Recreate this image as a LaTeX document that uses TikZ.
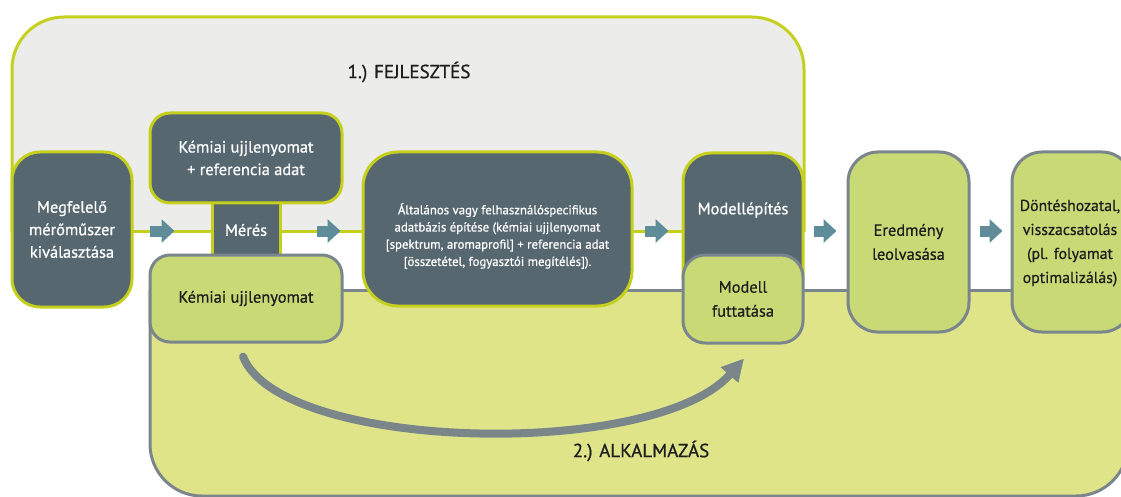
\documentclass[tikz,border=0pt]{standalone}
\usepackage{fontspec}
\setmainfont{PT Sans}[RawFeature={embolden=0.7}]
\usetikzlibrary{arrows.meta,calc}

\definecolor{slate}{RGB}{86,103,112}
\definecolor{limeline}{RGB}{197,208,30}
\definecolor{devgray}{RGB}{236,236,234}
\definecolor{leaf}{RGB}{201,217,118}
\definecolor{appfill}{RGB}{223,228,137}
\definecolor{boxgray}{RGB}{122,133,140}
\definecolor{flowteal}{RGB}{94,141,153}
\definecolor{loopgray}{RGB}{123,134,139}
\definecolor{ink}{RGB}{30,30,30}

\tikzset{
  darkbox/.style={draw=limeline, fill=slate, line width=3pt, text=white,
    rounded corners=#1, align=center, inner sep=0pt,
    font=\fontsize{16.4}{22.5}\selectfont},
  greenbox/.style={draw=boxgray, fill=leaf, line width=3pt, text=ink,
    rounded corners=#1, align=center, inner sep=0pt,
    font=\fontsize{16.4}{24}\selectfont},
  boxtext/.style={text=white, align=center, inner sep=0pt},
  flowarrow/.style={draw=flowteal, line width=11pt,
    -{Triangle[length=13pt,width=23pt]}},
  loop/.style={draw=loopgray, line width=8pt, line cap=round,
    -{Triangle[length=22pt,width=22pt]}},
  phase/.style={text=ink, font=\fontsize{19}{22}\selectfont}
}

\begin{document}
\begin{tikzpicture}[x=1pt,y=-1pt]
\useasboundingbox (0,0) rectangle (1121,497);
\clip (0,0) rectangle (1121,497);
\fill[white] (0,0) rectangle (1121,497);

% application phase area (lower)
\begin{scope}
  \clip (0,290) rectangle (1200,600);
  \draw[draw=boxgray, fill=appfill, line width=3pt, rounded corners=52pt]
    (150,200) rectangle (1128,496);
\end{scope}
\draw[boxgray, line width=3pt] (150,290) -- (1128,290);

% development phase area (upper)
\begin{scope}
  \clip (0,0) rectangle (1121,231);
  \draw[draw=limeline, fill=devgray, line width=3pt, rounded corners=52pt]
    (12,17) rectangle (804,300);
\end{scope}
\draw[limeline, line width=3pt] (12,231) -- (804,231);
\coordinate (flow) at (0,231);

\node[phase] (dev) at (409,72) {1.) FEJLESZTÉS};
\node[phase] (app) at (641,451) {2.) ALKALMAZÁS};

% development steps
\node[darkbox=28pt, minimum width=120pt, minimum height=155pt] (meg) at (72,229.5)
  {Megfelelő\\mérőműszer\\kiválasztása};
\node[darkbox=0pt, minimum width=68pt, minimum height=60pt] (meres) at (246,230)
  {Mérés};
\node[darkbox=20pt, minimum width=192pt, minimum height=90pt] (kref) at (246,158)
  {Kémiai ujjlenyomat\\+ referencia adat};
\node[darkbox=35pt, minimum width=269pt, minimum height=154pt] (alt) at (497.5,229) {};
\node[boxtext, font=\fontsize{12.8}{17.2}\selectfont] (altlbl) at (497.5,236)
  {Általános vagy felhasználóspecifikus\\adatbázis építése (kémiai ujjlenyomat\\{[}spektrum, aromaprofil{]} + referencia adat\\{[}összetétel, fogyasztói megítélés{]}).};
\node[darkbox=28pt, minimum width=120pt, minimum height=150pt] (mepit) at (743,228) {};
\node[boxtext, font=\fontsize{16.4}{20}\selectfont] (mepitlbl) at (743,210) {Modellépítés};

% application steps
\node[greenbox=20pt, minimum width=192pt, minimum height=87pt] (kujj) at (246,298.5)
  {Kémiai ujjlenyomat};
\node[greenbox=22pt, minimum width=120pt, minimum height=88pt] (mfut) at (743,299)
  {Modell\\futtatása};
\node[greenbox=30pt, minimum width=121pt, minimum height=180pt] (ered) at (908.5,242)
  {Eredmény\\leolvasása};
\node[greenbox=30pt, minimum width=120pt, minimum height=180pt] (dont) at (1072,242) {};
\node[inner sep=0pt, align=center, text=ink, font=\fontsize{15.8}{24}\selectfont]
  (dontlbl) at (1070,243)
  {Döntéshozatal,\\visszacsatolás\\(pl. folyamat\\optimalizálás)};

% flow arrows
\draw[flowarrow, shorten <=16pt, shorten >=36pt] (meg.east |- flow) -- (meres.west |- flow);
\draw[flowarrow, shorten <=35pt, shorten >=21pt] (meres.east |- flow) -- (alt.west |- flow);
\draw[flowarrow, shorten <=11pt, shorten >=13pt] (alt.east |- flow) -- (mepit.west |- flow);
\draw[flowarrow, shorten <=9pt, shorten >=10pt] (mepit.east |- flow) -- (ered.west |- flow);
\draw[flowarrow, shorten <=9pt, shorten >=8pt] (ered.east |- flow) -- (dont.west |- flow);

% measured fingerprint goes straight to the model run
\draw[loop] ($(kujj.south)+(-3,13)$) .. controls +(37,95) and +(-90,102) .. ($(mfut.south)+(1,14)$);
\end{tikzpicture}
\end{document}
